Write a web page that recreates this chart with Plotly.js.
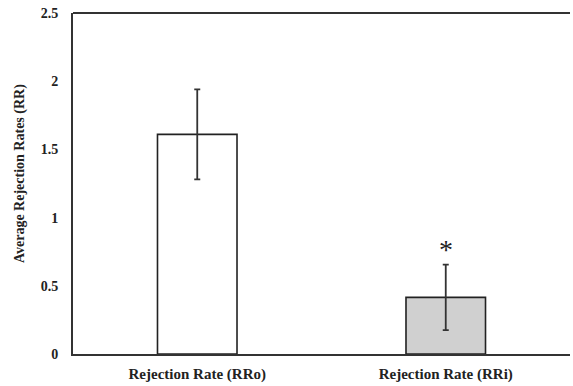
<!DOCTYPE html>
<html><head><meta charset="utf-8">
<script src="https://cdn.plot.ly/plotly-3.0.1.min.js"></script>
<style>html,body{margin:0;padding:0;background:#fff}#chart{width:573px;height:386px}</style>
</head><body><div id="chart"></div>
<script>
const categories = ["Rejection Rate (RRo)", "Rejection Rate (RRi)"];
const values = [1.61, 0.415];
const errors = [0.33, 0.24];
const fills = ["#ffffff", "#d0d0d0"];
const sigMarks = ["", "*"];
const yTicks = [0, 0.5, 1, 1.5, 2, 2.5];
const yTitle = "Average Rejection Rates (RR)";

const fam = "Liberation Serif";
const font = {family: fam, size: 14, color: "#222"};
const trace = {
  type: "bar", x: categories, y: values, width: 0.32,
  marker: {color: fills, line: {color: "#222", width: 1.6}},
  error_y: {type: "data", array: errors, visible: true, color: "#333", thickness: 1.8, width: 3},
  hoverinfo: "none"
};
const annotations = categories.map((c, i) => ({
  x: c, y: values[i] + errors[i], text: sigMarks[i], showarrow: false,
  yanchor: "bottom", yshift: -2, font: {family: fam, size: 28, color: "#222"}
})).filter((a, i) => sigMarks[i]);
annotations.push({xref: "paper", yref: "paper", x: -0.107, y: 0.53, text: "<b>" + yTitle + "</b>",
  textangle: -90, showarrow: false, xanchor: "center", yanchor: "middle",
  font: {family: fam, size: 14, color: "#222"}});

const layout = {
  width: 573, height: 386,
  margin: {l: 73, r: 3, t: 13, b: 32},
  paper_bgcolor: "#fff", plot_bgcolor: "#fff",
  font: font, showlegend: false, bargap: 0,
  xaxis: {type: "category", showline: true, linecolor: "#333", linewidth: 2, showgrid: false,
    ticks: "", ticklabelstandoff: 5, tickfont: {family: fam, size: 15, color: "#222", weight: "bold"},
    mirror: false},
  yaxis: {range: [0, 2.5], tickvals: yTicks, ticktext: yTicks.map(String), showline: true, linecolor: "#333", linewidth: 2,
    showgrid: false, zeroline: false, ticks: "", ticklabelstandoff: 10,
    tickfont: {family: fam, size: 14, color: "#222", weight: "bold"}},
  shapes: [{type: "line", xref: "paper", yref: "paper", x0: 0, x1: 1, y0: 1, y1: 1, line: {color: "#333", width: 2}}],
  annotations: annotations
};
Plotly.newPlot("chart", [trace], layout, {displayModeBar: false, staticPlot: true});
</script></body></html>
